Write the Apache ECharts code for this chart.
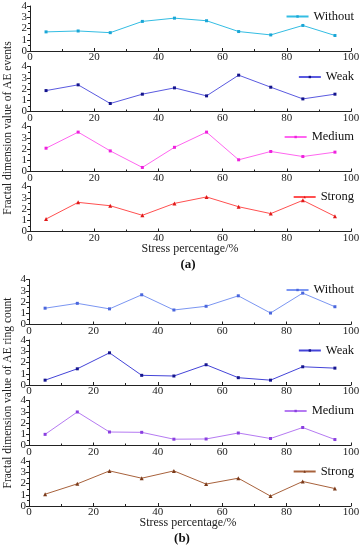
<!DOCTYPE html>
<html><head><meta charset="utf-8">
<script src="https://cdn.jsdelivr.net/npm/echarts@6/dist/echarts.min.js"></script>
<style>html,body{margin:0;padding:0;background:#fff}#c{width:363px;height:550px}</style>
</head><body><div id="c"></div>
<script>
const stress = [5, 15, 25, 35, 45, 55, 65, 75, 85, 95];
const xTicks = [0, 20, 40, 60, 80, 100];
const yTicks = [0, 1, 2, 3, 4];
// (a) AE events
const aWithout = [1.70, 1.78, 1.63, 2.63, 2.92, 2.69, 1.73, 1.43, 2.27, 1.38];
const aWeak    = [1.86, 2.37, 0.71, 1.54, 2.10, 1.39, 3.23, 2.16, 1.12, 1.54];
const aMedium  = [2.07, 3.50, 1.83, 0.36, 2.15, 3.50, 1.04, 1.78, 1.33, 1.72];
const aStrong  = [1.11, 2.59, 2.29, 1.44, 2.50, 3.07, 2.20, 1.59, 2.77, 1.35];
// (b) AE ring count
const bWithout = [1.45, 1.88, 1.39, 2.64, 1.29, 1.62, 2.55, 1.02, 2.79, 1.58];
const bWeak    = [0.43, 1.44, 2.86, 0.86, 0.80, 1.80, 0.65, 0.43, 1.62, 1.50];
const bMedium  = [0.99, 2.98, 1.20, 1.17, 0.56, 0.58, 1.11, 0.62, 1.60, 0.53];
const bStrong  = [1.05, 1.97, 3.12, 2.47, 3.12, 1.95, 2.47, 0.88, 2.18, 1.55];

const panels = [
  {data: aWithout, name: 'Without', line: '#33bde3', mark: '#1aa6d6', sym: 'rect'},
  {data: aWeak, name: 'Weak', line: '#5a5ae0', mark: '#14148c', sym: 'rect'},
  {data: aMedium, name: 'Medium', line: '#ff66f0', mark: '#ee22dd', sym: 'rect'},
  {data: aStrong, name: 'Strong', line: '#ff5050', mark: '#e01818', sym: 'triangle'},
  {data: bWithout, name: 'Without', line: '#7b96f2', mark: '#4a66dd', sym: 'rect'},
  {data: bWeak, name: 'Weak', line: '#4444d8', mark: '#16168f', sym: 'rect'},
  {data: bMedium, name: 'Medium', line: '#b57af2', mark: '#8a3fe0', sym: 'rect'},
  {data: bStrong, name: 'Strong', line: '#a8623c', mark: '#7a3a1a', sym: 'triangle'}
];
const tops = [6, 66.5, 126.5, 186.5, 279.5, 340, 400.5, 461];
const lefts = [30, 30, 30, 30, 29, 29, 29, 29];
const H = 45;
const font = '"Liberation Serif", "Times New Roman", serif';

const grid = [], xAxis = [], yAxis = [], series = [], legend = [];
panels.forEach((p, i) => {
  grid.push({left: lefts[i], right: 12, top: tops[i], height: H});
  xAxis.push({
    gridIndex: i, type: 'value', min: 0, max: 100, interval: 20,
    axisLine: {lineStyle: {color: '#222', width: 1}},
    axisTick: {inside: true, length: 3, lineStyle: {color: '#222'}},
    minorTick: {show: true, splitNumber: 2, length: 2, lineStyle: {color: '#222'}},
    splitLine: {show: false},
    axisLabel: {color: '#222', fontFamily: font, fontSize: 11, margin: 1,
      formatter: v => xTicks.includes(v) ? String(v) : ''}
  });
  yAxis.push({
    gridIndex: i, type: 'value', min: 0, max: 4, interval: 1,
    axisLine: {show: true, lineStyle: {color: '#222', width: 1}},
    axisTick: {show: true, inside: false, length: 3, lineStyle: {color: '#222'}},
    minorTick: {show: true, splitNumber: 2, length: 2, lineStyle: {color: '#222'}},
    splitLine: {show: false},
    axisLabel: {color: '#222', fontFamily: font, fontSize: 11, margin: 3,
      formatter: v => yTicks.includes(v) ? String(v) : ''}
  });
  const sname = p.name + ' ' + (i < 4 ? 'a' : 'b');
  series.push({
    name: sname, type: 'line', xAxisIndex: i, yAxisIndex: i,
    data: stress.map((x, k) => [x, p.data[k]]),
    symbol: p.sym, symbolSize: p.sym === 'triangle' ? 4 : 3,
    lineStyle: {color: p.line, width: 1},
    itemStyle: {color: p.mark},
    animation: false
  });
  legend.push({
    data: [sname], right: 4, top: tops[i] - 1,
    itemWidth: 22, itemHeight: 3, itemGap: 3,
    formatter: () => p.name,
    textStyle: {fontFamily: font, fontSize: 12.5, color: '#111'}
  });
});

const chart = echarts.init(document.getElementById('c'), null, {renderer: 'canvas'});
chart.setOption({
  animation: false,
  backgroundColor: '#fff',
  grid, xAxis, yAxis, series, legend,
  graphic: [
    {type: 'text', x: 8, y: 128, rotation: Math.PI / 2,
      style: {text: 'Fractal dimension value of AE events', font: '11.5px ' + font, fill: '#222',
        textAlign: 'center', textVerticalAlign: 'middle'}},
    {type: 'text', x: 8, y: 393, rotation: Math.PI / 2,
      style: {text: 'Fractal dimension value of AE ring count', font: '11.5px ' + font, fill: '#222',
        textAlign: 'center', textVerticalAlign: 'middle'}},
    {type: 'text', x: 190, y: 249,
      style: {text: 'Stress percentage/%', font: '12px ' + font, fill: '#222',
        textAlign: 'center', textVerticalAlign: 'middle'}},
    {type: 'text', x: 188, y: 265,
      style: {text: '(a)', font: 'bold 13px ' + font, fill: '#111',
        textAlign: 'center', textVerticalAlign: 'middle'}},
    {type: 'text', x: 188, y: 523,
      style: {text: 'Stress percentage/%', font: '12px ' + font, fill: '#222',
        textAlign: 'center', textVerticalAlign: 'middle'}},
    {type: 'text', x: 182, y: 539,
      style: {text: '(b)', font: 'bold 13px ' + font, fill: '#111',
        textAlign: 'center', textVerticalAlign: 'middle'}}
  ]
});
</script></body></html>
